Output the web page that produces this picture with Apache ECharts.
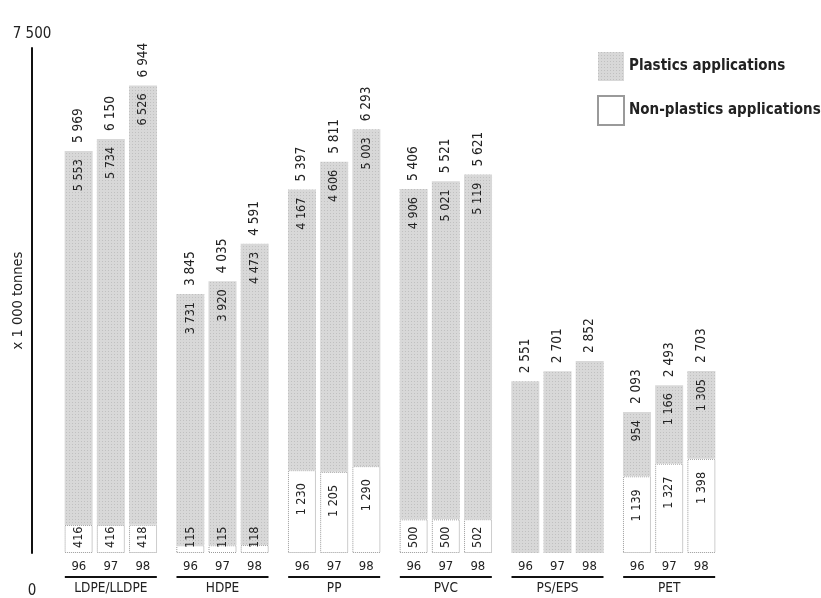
<!DOCTYPE html>
<html>
<head>
<meta charset="utf-8">
<script src="https://cdn.jsdelivr.net/npm/echarts@6/dist/echarts.min.js"></script>
<style>
html,body{margin:0;padding:0;background:#fff;}
#chart{width:821px;height:598px;}
</style>
</head>
<body>
<div id="chart"></div>
<script>
var categories = ['LDPE/LLDPE', 'HDPE', 'PP', 'PVC', 'PS/EPS', 'PET'];
var years = ['96', '97', '98'];
var plastics96 = [5553, 3731, 4167, 4906, 2551, 954];
var plastics97 = [5734, 3920, 4606, 5021, 2701, 1166];
var plastics98 = [6526, 4473, 5003, 5119, 2852, 1305];
var nonPlastics96 = [416, 115, 1230, 500, null, 1139];
var nonPlastics97 = [416, 115, 1205, 500, null, 1327];
var nonPlastics98 = [418, 118, 1290, 502, null, 1398];
var totals96 = [5969, 3845, 5397, 5406, 2551, 2093];
var totals97 = [6150, 4035, 5811, 5521, 2701, 2493];
var totals98 = [6944, 4591, 6293, 5621, 2852, 2703];
var yTicks = [0, 7500];
var yTickLabels = ['0', '7 500'];
var plasticsName = 'Plastics applications';
var nonPlasticsName = 'Non-plastics applications';
var axisName = 'x 1 000 tonnes';

var FONT = "'DejaVu Sans Condensed', 'Liberation Sans Narrow', 'Liberation Sans', sans-serif";
var TXT = '#222';

function fmt(n) {
  var s = String(n);
  return s.length > 3 ? s.slice(0, s.length - 3) + ' ' + s.slice(-3) : s;
}

var plastics = [plastics96, plastics97, plastics98];
var nonPlastics = [nonPlastics96, nonPlastics97, nonPlastics98];
var totals = [totals96, totals97, totals98];

var BW = 28;
var series = [];
years.forEach(function (yr, i) {
  var stack = 'y' + yr;
  series.push({
    name: nonPlasticsName, type: 'bar', stack: stack, barWidth: BW, barGap: '15%',
    itemStyle: { color: '#ffffff', borderColor: '#9a9a9a', borderWidth: 1, borderType: 'dotted' },
    data: nonPlastics[i].map(function (v) {
      if (v == null) return '-';
      var big = v > 1000;
      return {
        value: v,
        label: {
          position: big ? 'insideTop' : 'insideBottom',
          align: big ? 'right' : 'left',
          distance: big ? 13 : 5
        }
      };
    }),
    label: {
      show: true, rotate: 90, verticalAlign: 'middle',
      fontFamily: FONT, fontSize: 12.5, color: TXT,
      formatter: function (p) { return fmt(p.value); }
    }
  });
  series.push({
    name: plasticsName, type: 'bar', stack: stack, barWidth: BW, barGap: '15%',
    itemStyle: {
      color: '#d8d8d8',
      decal: { symbol: 'rect', symbolSize: 1, color: 'rgba(150,150,150,0.35)', dashArrayX: [1, 2], dashArrayY: [1, 2] }
    },
    data: plastics[i].map(function (v, k) {
      if (nonPlastics[i][k] == null) return { value: v, label: { show: false } };
      return v;
    }),
    label: {
      show: true, position: 'insideTop', rotate: 90, align: 'right', verticalAlign: 'middle',
      distance: 8, fontFamily: FONT, fontSize: 12.5, color: TXT,
      formatter: function (p) { return fmt(p.value); }
    }
  });
  series.push({
    name: 'total' + yr, type: 'bar', stack: stack, barWidth: BW, barGap: '15%',
    itemStyle: { color: 'rgba(0,0,0,0)' },
    data: totals[i].map(function () { return 0; }),
    label: {
      show: true, position: 'top', rotate: 90, align: 'left', verticalAlign: 'middle',
      distance: 8, fontFamily: FONT, fontSize: 13.5, color: TXT,
      formatter: function (p) { return fmt(totals[i][p.dataIndex]); }
    }
  });
});

var chart = echarts.init(document.getElementById('chart'), null, { renderer: 'canvas' });
chart.setOption({
  animation: false,
  backgroundColor: '#ffffff',
  grid: { left: 55, right: 96, top: 48, bottom: 45, containLabel: false, outerBoundsMode: 'none' },
  legend: {
    data: [plasticsName, nonPlasticsName],
    orient: 'vertical', left: 597, top: 52, padding: 0,
    itemWidth: 26, itemHeight: 29, itemGap: 14,
    icon: 'rect',
    selectedMode: false,
    textStyle: { fontFamily: FONT, fontSize: 15, fontWeight: 'bold', color: TXT }
  },
  xAxis: {
    type: 'category', data: categories,
    axisLine: { show: false }, axisTick: { show: false },
    axisLabel: {
      interval: 0, margin: 8,
      formatter: function (v) {
        return years.map(function (y) { return '{y|' + y + '}'; }).join('') + '\n{u| }\n{n|' + v + '}';
      },
      rich: {
        y: { width: 32, align: 'center', fontFamily: FONT, fontSize: 13, lineHeight: 12, color: TXT },
        u: { width: 92, height: 2, lineHeight: 8, backgroundColor: '#111', fontSize: 1 },
        n: { fontFamily: FONT, fontSize: 13.5, lineHeight: 14, color: TXT, align: 'center' }
      }
    }
  },
  yAxis: {
    type: 'value', min: yTicks[0], max: yTicks[1], interval: yTicks[1] - yTicks[0],
    offset: 23,
    name: axisName, nameLocation: 'middle', nameRotate: 90, nameGap: 6,
    nameMoveOverlap: false,
    nameTextStyle: { fontFamily: FONT, fontSize: 14.5, color: TXT },
    axisLine: { show: true, lineStyle: { color: '#111', width: 2 } },
    axisTick: { show: false },
    splitLine: { show: false },
    axisLabel: {
      margin: 0, align: 'center',
      formatter: function (v) {
        var idx = yTicks.indexOf(v);
        return idx === 0 ? '{z|' + yTickLabels[0] + '}' : '{t|' + yTickLabels[idx] + '}';
      },
      rich: {
        z: { fontFamily: FONT, fontSize: 15, color: TXT, padding: [76, 0, 0, 0] },
        t: { fontFamily: FONT, fontSize: 15, color: TXT, padding: [0, 0, 28, 0] }
      }
    }
  },
  series: series
});
</script>
</body>
</html>
